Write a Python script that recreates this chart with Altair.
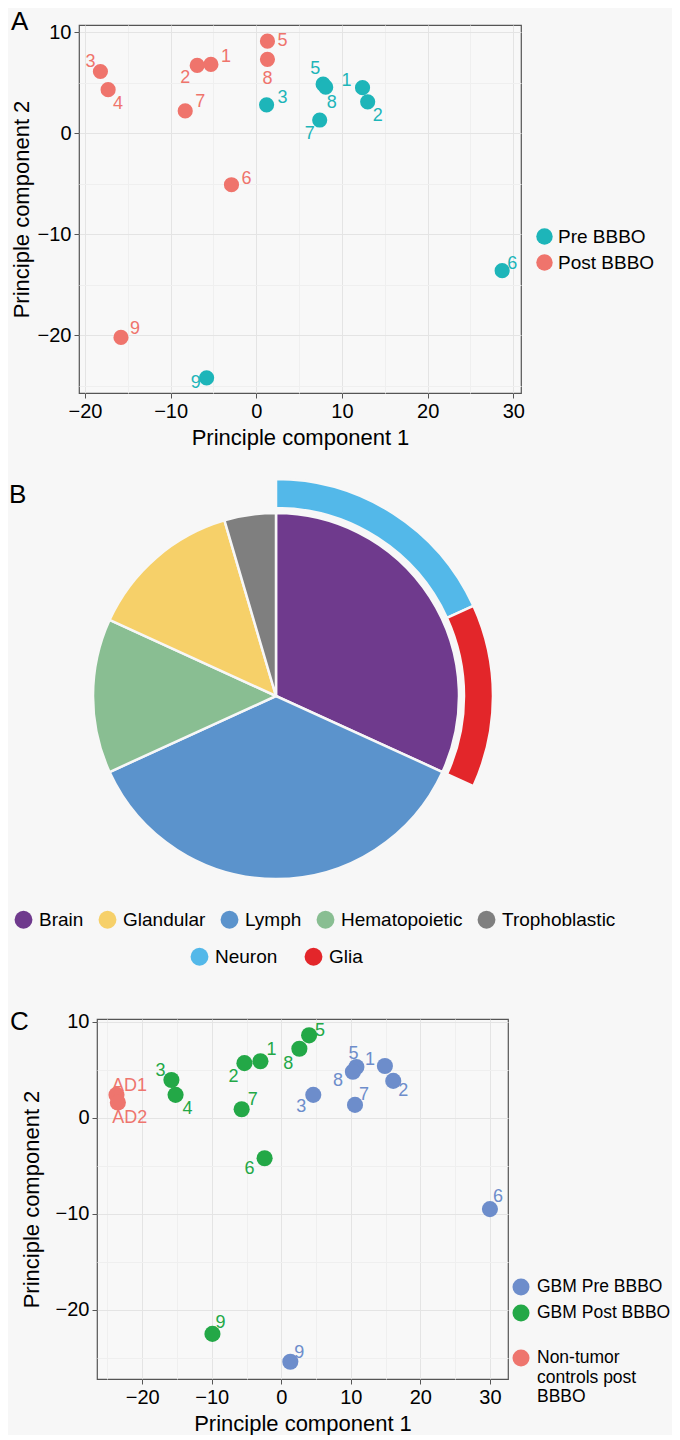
import altair as alt
import pandas as pd

FONT = "Liberation Sans"
BG = "#F7F7F7"

# ---------------- Panel A data ----------------
a_pre_ids = ["1", "2", "3", "5", "6", "7", "8", "9"]
a_pre_pc1 = [12.4, 13.0, 1.2, 7.8, 28.7, 7.4, 8.1, -5.8]
a_pre_pc2 = [4.5, 3.1, 2.8, 4.85, -13.6, 1.3, 4.55, -24.2]
a_post_ids = ["1", "2", "3", "4", "5", "6", "7", "8", "9"]
a_post_pc1 = [-5.3, -6.9, -18.2, -17.3, 1.3, -2.9, -8.3, 1.3, -15.8]
a_post_pc2 = [6.8, 6.7, 6.1, 4.3, 9.1, -5.1, 2.2, 7.3, -20.2]
# label nudges (pixels)
a_pre_ldx = [-16, 10, 16, -8, 10, -10, 6, -11]
a_pre_ldy = [-7, 14, -7, -15, -7, 14, 16, 5]
a_post_ldx = [15, -12, -10, 10, 15, 15, 15, 0, 14]
a_post_ldy = [-7, 13, -10, 14, 0, -6, -9, 20, -8]
a_groups = ["Pre BBBO", "Post BBBO"]
a_colors = ["#1DB5B9", "#EF746C"]

# ---------------- Panel B data ----------------
pie_tissues = ["Brain", "Lymph", "Hematopoietic", "Glandular", "Trophoblastic"]  # clockwise
pie_counts = [7, 8, 3, 3, 1]
legend_tissues = ["Brain", "Glandular", "Lymph", "Hematopoietic", "Trophoblastic"]
tissue_colors = ["#6F3A8D", "#F6D069", "#5B93CC", "#89BE92", "#7F7F7F"]
brain_sub = ["Neuron", "Glia"]
brain_sub_counts = [4, 3]
sub_colors = ["#53B8E9", "#E3262A"]

# ---------------- Panel C data ----------------
c_pre_ids = ["1", "2", "3", "5", "6", "7", "8", "9"]
c_pre_pc1 = [14.9, 16.1, 4.6, 10.8, 30.0, 10.6, 10.3, 1.3]
c_pre_pc2 = [5.4, 3.85, 2.4, 5.3, -9.5, 1.35, 4.8, -25.4]
c_post_ids = ["1", "2", "3", "4", "5", "6", "7", "8", "9"]
c_post_pc1 = [-3.0, -5.3, -15.8, -15.2, 4.0, -2.4, -5.7, 2.6, -9.9]
c_post_pc2 = [5.9, 5.7, 3.95, 2.4, 8.6, -4.2, 0.9, 7.2, -22.5]
c_ctrl_ids = ["AD1", "AD2"]
c_ctrl_pc1 = [-23.7, -23.5]
c_ctrl_pc2 = [2.4, 1.6]
c_pre_ldx = [-15, 10, -12, -3, 8, 9, -15, 9]
c_pre_ldy = [-6, 10, 12, -13, -12, -10, 9, -9]
c_post_ldx = [11, -11, -11, 12, 11, -15, 11, -11, 8]
c_post_ldy = [-11, 14, -9, 14, -4, 11, -9, 15, -11]
c_ctrl_ldx = [13, 12]
c_ctrl_ldy = [-9, 15]
c_groups = ["GBM Pre BBBO", "GBM Post BBBO", "Non-tumor controls post BBBO"]
c_colors = ["#6D8DCB", "#23A847", "#EE756E"]


def frame(group, ids, pc1, pc2, ldx, ldy):
    return pd.DataFrame({"group": group, "id": ids, "pc1": pc1, "pc2": pc2,
                         "ldx": ldx, "ldy": ldy})


df_a = pd.concat([
    frame("Pre BBBO", a_pre_ids, a_pre_pc1, a_pre_pc2, a_pre_ldx, a_pre_ldy),
    frame("Post BBBO", a_post_ids, a_post_pc1, a_post_pc2, a_post_ldx, a_post_ldy),
], ignore_index=True)

df_c = pd.concat([
    frame("GBM Pre BBBO", c_pre_ids, c_pre_pc1, c_pre_pc2, c_pre_ldx, c_pre_ldy),
    frame("GBM Post BBBO", c_post_ids, c_post_pc1, c_post_pc2, c_post_ldx, c_post_ldy),
    frame("Non-tumor controls post BBBO", c_ctrl_ids, c_ctrl_pc1, c_ctrl_pc2, c_ctrl_ldx, c_ctrl_ldy),
], ignore_index=True)

MINOR = "datum.value % 10 !== 0"


def pc_axis(title, values, title_x=None, title_y=None):
    kw = dict(
        title=title, values=values,
        labelExpr="datum.value % 10 === 0 ? datum.label : ''",
        labelOverlap=False, labelBound=False,
        grid=True,
        gridColor={"condition": {"test": MINOR, "value": "#EFEFEF"}, "value": "#E4E4E4"},
        gridWidth=1,
        domain=False,
        ticks=True, tickColor="#555555", tickSize=5, tickWidth=1,
        tickOpacity={"condition": {"test": MINOR, "value": 0}, "value": 1},
        labelFont=FONT, labelFontSize=20, labelColor="black", labelPadding=3,
        titleFont=FONT, titleFontSize=22, titleFontWeight="normal", titleColor="black",
    )
    if title_x is not None:
        kw.update(titleX=title_x, titleY=title_y, titleBaseline="bottom", titleAngle=270,
                  titleAlign="center")
    else:
        kw.update(titlePadding=6)
    return alt.Axis(**kw)


def scatter(df, groups, colors, xdom, ydom, xvals, yvals, w, h, letter, letter_dx,
            letter_size, letter_offset, ytitle_x, leg_x, leg_y, psize, legend_extra):
    kx = (xdom[1] - xdom[0]) / w
    ky = (ydom[1] - ydom[0]) / h
    xs = alt.Scale(domain=xdom, nice=False, zero=False)
    ys = alt.Scale(domain=ydom, nice=False, zero=False)
    x_axis = pc_axis("Principle component 1", xvals)
    y_axis = pc_axis("Principle component 2", yvals, title_x=ytitle_x, title_y=h / 2)
    cscale = alt.Scale(domain=groups, range=colors)
    legend = alt.Legend(orient="none", legendX=leg_x, legendY=leg_y, title=None,
                        symbolType="circle", symbolStrokeWidth=0,
                        labelColor="black", labelFont=FONT, **legend_extra)
    base = alt.Chart(df)
    pts = base.mark_circle(size=psize, opacity=1).encode(
        x=alt.X("pc1:Q", scale=xs, axis=x_axis),
        y=alt.Y("pc2:Q", scale=ys, axis=y_axis),
        color=alt.Color("group:N", scale=cscale, legend=legend))
    txt = base.transform_calculate(
        lx=f"datum.pc1 + datum.ldx * {kx}",
        ly=f"datum.pc2 - datum.ldy * {ky}",
    ).mark_text(font=FONT, fontSize=18, align="center", baseline="middle").encode(
        x=alt.X("lx:Q", scale=xs, axis=x_axis),
        y=alt.Y("ly:Q", scale=ys, axis=y_axis),
        text="id:N",
        color=alt.Color("group:N", scale=cscale, legend=None))
    return alt.layer(pts, txt).properties(
        width=w, height=h,
        view=alt.ViewBackground(fill="#F8F8F8", stroke="#555555", strokeWidth=1.2),
        title=alt.TitleParams(letter, anchor="start", frame="group", font=FONT,
                              fontSize=letter_size, fontWeight="normal", color="black",
                              dx=letter_dx, offset=letter_offset),
    )


chart_a = scatter(
    df_a, a_groups, a_colors, [-20.7, 30.9], [-25.7, 10.7],
    list(range(-20, 31, 5)), list(range(-25, 11, 5)),
    442, 368, "A", -68, 26, -13, -46, 456, 202, 230,
    dict(symbolSize=270, rowPadding=6, labelOffset=4, labelFontSize=19),
)

chart_c = scatter(
    df_c, c_groups, c_colors, [-26.5, 32.6], [-27.2, 10.3],
    list(range(-25, 31, 5)), list(range(-25, 11, 5)),
    411, 360, "C", -87, 26, -23, -54, 415, 259, 260,
    dict(symbolSize=290, rowPadding=8, labelOffset=7, labelFontSize=17.5,
         labelExpr=("datum.label == 'Non-tumor controls post BBBO' ? ['Non-tumor', 'controls post', 'BBBO'] : "
                    "datum.label == 'GBM Post BBBO' ? ['GBM Post BBBO', ''] : datum.label")),
)

# ---------------- Panel B ----------------
total = sum(pie_counts)
df_pie = pd.DataFrame({"tissue": pie_tissues, "n": pie_counts})
df_sub = pd.DataFrame({"sub": brain_sub, "n": brain_sub_counts})

inner = alt.Chart(df_pie).transform_window(
    idx="row_number()"
).mark_arc(radius=183, stroke=BG, strokeWidth=2.5).encode(
    theta=alt.Theta("n:Q", stack=True, scale=alt.Scale(domain=[0, total])),
    order=alt.Order("idx:Q"),
    color=alt.Color("tissue:N", scale=alt.Scale(domain=legend_tissues, range=tissue_colors),
                    legend=alt.Legend(orient="none", legendX=5, legendY=404, direction="horizontal",
                                      columns=5, title=None, symbolType="circle", symbolSize=320,
                                      symbolStrokeWidth=0, labelFont=FONT, labelFontSize=19,
                                      labelColor="black", labelOffset=6, columnPadding=14)),
)

ring = alt.Chart(df_sub).transform_window(
    end="sum(n)"
).transform_calculate(
    start="datum.end - datum.n"
).mark_arc(radius=217, radius2=188, stroke=BG, strokeWidth=2.5).encode(
    theta=alt.Theta("start:Q", scale=alt.Scale(domain=[0, total])),
    theta2="end:Q",
    color=alt.Color("sub:N", scale=alt.Scale(domain=brain_sub, range=sub_colors),
                    legend=alt.Legend(orient="none", legendX=165, legendY=425, direction="horizontal",
                                      columns=2, title=None, symbolType="circle", symbolSize=320,
                                      symbolStrokeWidth=0, labelFont=FONT, labelFontSize=19,
                                      labelColor="black", labelOffset=6, columnPadding=26,
                                      padding=16)),
)

chart_b = alt.layer(inner, ring).resolve_scale(color="independent").properties(
    width=534, height=380,
    view=alt.ViewBackground(fill=BG, strokeOpacity=0),
    title=alt.TitleParams("B", anchor="start", frame="group", font=FONT,
                          fontSize=26, fontWeight="normal", color="black", dx=0, offset=-34),
)


def spacer():
    return alt.Chart(pd.DataFrame({"v": [0]})).mark_point(size=1, opacity=0).encode(
        x=alt.X("v:Q", axis=None), y=alt.Y("v:Q", axis=None)
    ).properties(width=1, height=1, view=alt.ViewBackground(strokeOpacity=0))


def row(ch):
    return alt.hconcat(spacer(), ch, spacing=0).resolve_scale(
        x="independent", y="independent", color="independent")


chart = alt.vconcat(row(chart_a), row(chart_b), row(chart_c), spacing=25).resolve_scale(
    color="independent", x="independent", y="independent", theta="independent"
).properties(background=BG, padding=0)

chart.save("out.html", embed_options={"renderer": "svg", "actions": False})
